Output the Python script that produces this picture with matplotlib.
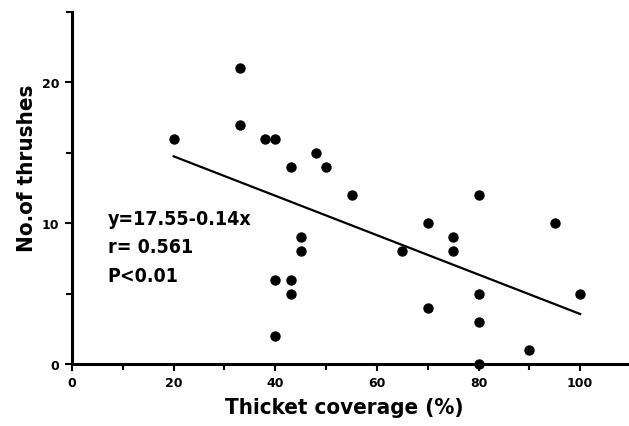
import numpy as np
import matplotlib.pyplot as plt

# thicket coverage (%) and number of thrushes
coverage = [20, 33, 33, 38, 40, 43, 48, 50, 55, 80, 40, 43, 43, 40, 45, 45,
            70, 75, 75, 65, 95, 80, 70, 80, 90, 100, 80]
thrushes = [16, 21, 17, 16, 16, 14, 15, 14, 12, 12, 6, 6, 5, 2, 9, 8,
            10, 9, 8, 8, 10, 5, 4, 3, 1, 5, 0]

# regression y = a + b*x
a, b = 17.55, -0.14
fit_x = np.array([20, 100])

lbl = dict(family='DejaVu Sans', fontstretch='condensed', fontweight='bold')

fig = plt.figure(figsize=(6.29, 4.27), dpi=100)
ax = fig.add_axes([72/629, 62/427, 559/629, 352/427])

ax.scatter(coverage, thrushes, s=42, color='black', zorder=3, clip_on=False)
ax.plot(fit_x, a + b * fit_x, color='black', lw=1.6)

ax.set_xlim(0, 110)
ax.set_ylim(0, 25)
ax.spines['top'].set_visible(False)
ax.spines['right'].set_visible(False)
ax.spines['left'].set_linewidth(2.2)
ax.spines['bottom'].set_linewidth(2.2)

ax.set_xticks([0, 20, 40, 60, 80, 100])
ax.set_xticks([10, 30, 50, 70, 90], minor=True)
ax.set_yticks([0, 10, 20])
ax.set_yticks([5, 15, 25], minor=True)
ax.tick_params(which='major', direction='out', length=5, width=1.5, labelsize=9, pad=4)
ax.tick_params(which='minor', direction='out', length=4, width=1.5)
for lab in ax.get_xticklabels() + ax.get_yticklabels():
    lab.set_fontweight('bold')

ax.set_xlabel('Thicket coverage (%)', fontsize=16, **lbl)
ax.xaxis.set_label_coords(0.487, -0.095)
ax.set_ylabel('No.of thrushes', fontsize=16, **lbl)
ax.yaxis.set_label_coords(-0.062, 0.56)

ax.text(7, 9.96, 'y=17.55-0.14x', fontsize=14, va='baseline', **lbl)
ax.text(7, 7.97, 'r= 0.561', fontsize=14, va='baseline', **lbl)
ax.text(7, 5.9, 'P<0.01', fontsize=14, va='baseline', **lbl)

fig.savefig('out.png', dpi=100)
